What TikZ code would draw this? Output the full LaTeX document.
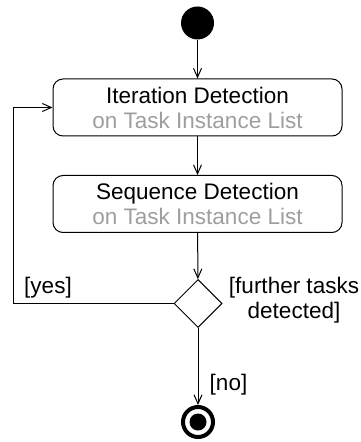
\documentclass[tikz,border=0pt]{standalone}
\usepackage{fontspec}
\setmainfont{Liberation Sans}
\usetikzlibrary{arrows.meta, shapes.geometric}

\begin{document}
\begin{tikzpicture}[x = 0.5pt, y = -0.5pt,
		flow/.style = {-{Straight Barb[length=4.5pt, width=4pt]}, line width = 0.5pt},
		activity/.style = {draw, line width = 0.5pt, rounded corners = 5pt, minimum width = 144.5pt, minimum height = 28.5pt, align = center, inner sep = 0pt},
		guard/.style = {font = \fontsize{11.25}{12.5}\selectfont, inner sep = 0pt, align = center}]
		\useasboundingbox (0,0) rectangle (360,442);
		\fontsize{11.25}{12.5}\selectfont
		% Nodes
		\node[circle, fill, minimum size = 16.5pt, inner sep = 0pt] (start) at (197.5,23) {};                 % initial node
		\node[activity] (iter) at (197.5,107.5) {Iteration Detection\\\textcolor{black!38}{on Task Instance List}};
		\node[activity] (seq)  at (197.5,204)   {Sequence Detection\\\textcolor{black!38}{on Task Instance List}};
		\node[diamond, draw, line width = 0.5pt, minimum size = 24pt, inner sep = 0pt] (dec) at (198,303.5) {};  % decision
		\node[circle, draw, line width = 2pt, minimum size = 15pt, inner sep = 0pt] (stop) at (198,422) {};     % final node
		\fill (stop.center) circle[radius = 4.25pt];
		\coordinate (back) at (13,303.5);
		% Connectors
		\draw[flow] (start) -- (iter);
		\draw[flow] (iter) -- (seq);
		\draw[flow] (seq) -- (dec);
		\draw[flow] (dec) -- (stop.north);
		\draw[flow] (dec.west) -- (back) |- (iter.west);
		% Labels
		\node[guard] (yes) at (48,288) {[yes]};
		\node[guard] (further) at (294,300) {[further tasks\\detected]};
		\node[guard] (no) at (228.5,385) {[no]};
	\end{tikzpicture}
\end{document}
